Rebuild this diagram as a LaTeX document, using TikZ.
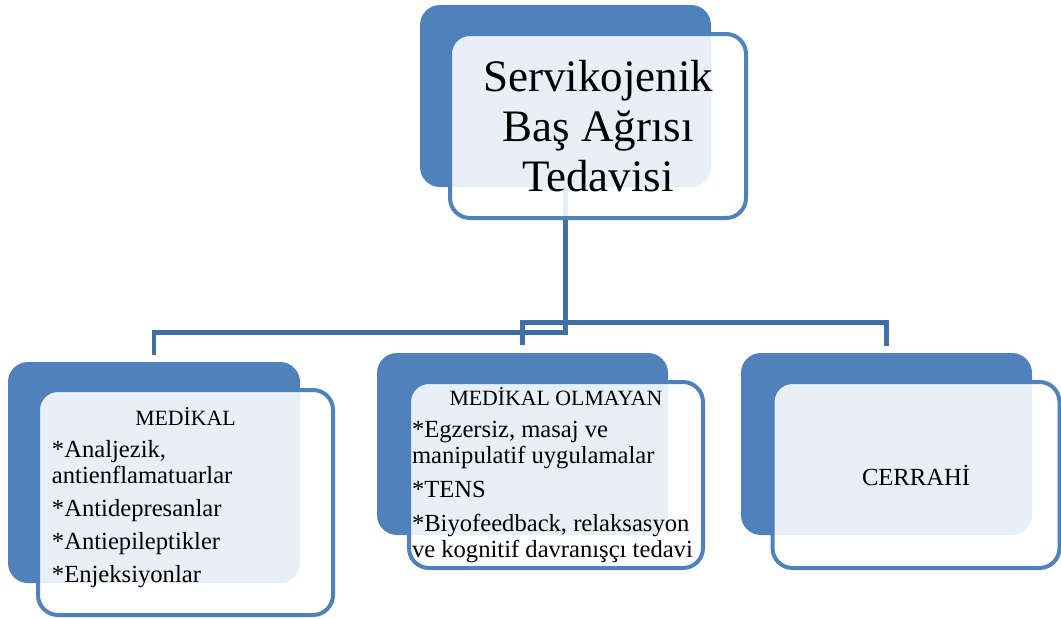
\documentclass[tikz,border=0pt]{standalone}
\usepackage{fontspec}
\setmainfont{Liberation Serif}
\usetikzlibrary{backgrounds}

\newdimen\px \px=0.025cm
\definecolor{boxblue}{HTML}{4F81BD}
\definecolor{lineblue}{HTML}{3F6EA8}
\newcommand{\boxhead}[1]{\makebox[\hsize]{\fontsize{15.5}{18.3}\selectfont #1}}

\tikzset{
  backbox/.style={fill=boxblue, rounded corners=20\px, inner sep=0pt},
  frontbox/.style={draw=boxblue, line width=4\px, fill=white, fill opacity=0.88,
    text opacity=1, rounded corners=20\px, inner sep=0pt, align=flush left,
    font=\fontsize{17.5}{18.6}\selectfont},
  titletext/.style={align=flush center, text width=280\px, font=\fontsize{32}{35.5}\selectfont},
  link/.style={draw=lineblue, line width=4.5\px},
}

\begin{document}
\begin{tikzpicture}[x=0.025cm, y=-0.025cm]
\useasboundingbox (0,0) rectangle (1061,619);

\node[backbox, minimum width=291\px, minimum height=182\px] (topback) at (565.5,96) {};
\node[frontbox, titletext, minimum width=296\px, minimum height=184\px] (top) at (598,126)
  {Servikojenik\\Baş Ağrısı\\Tedavisi};

\node[backbox, minimum width=292\px, minimum height=221\px] (medback) at (154,472.5) {};
\node[frontbox, text width=267\px, minimum width=295\px, minimum height=225\px] (med) at (185.5,502.5)
  {\boxhead{MEDİKAL}\\[4pt]
   *Analjezik,\\antienflamatuarlar\\[5pt]
   *Antidepresanlar\\[5pt]
   *Antiepileptikler\\[5pt]
   *Enjeksiyonlar\\[-8pt]\mbox{}};

\node[backbox, minimum width=291\px, minimum height=182\px] (nonmedback) at (522.5,444) {};
\node[frontbox, text width=288\px, minimum width=294\px, minimum height=186\px] (nonmed) at (556,475)
  {\boxhead{MEDİKAL OLMAYAN}\\[4pt]
   *Egzersiz, masaj ve\\manipulatif uygulamalar\\[6pt]
   *TENS\\[5pt]
   *Biyofeedback, relaksasyon\\ve kognitif davranışçı tedavi};

\node[backbox, minimum width=291\px, minimum height=182\px] (surgback) at (886.5,444) {};
\node[frontbox, align=flush center, minimum width=287\px, minimum height=186\px] (surg) at (916,475)
  {CERRAHİ};

\begin{scope}[on background layer]
\draw[link, shorten >=7\px] (topback.south) -- ++(0,145) -| (medback.north);
\draw[link, shorten >=8\px] (topback.south) -- ++(0,135) -| (nonmedback.north);
\draw[link, shorten >=7\px] (topback.south) -- ++(0,135) -| (surgback.north);
\end{scope}
\end{tikzpicture}
\end{document}
